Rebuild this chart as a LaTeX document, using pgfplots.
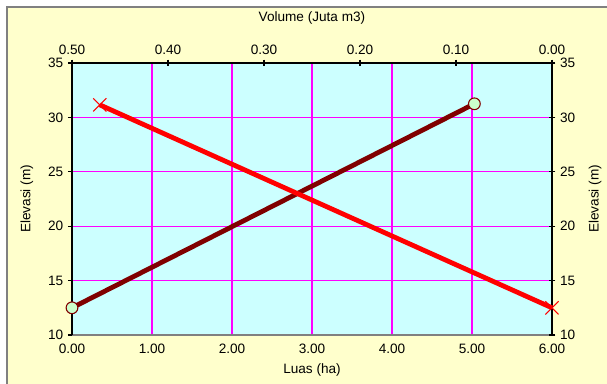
\documentclass[border=0pt]{standalone}
\usepackage{fontspec}
\setmainfont{Liberation Sans}
\usepackage{pgfplots}
\pgfplotsset{compat=1.18}
\definecolor{cream}{HTML}{FFFFCC}
\definecolor{cyanbg}{HTML}{CCFFFF}
\definecolor{darkred}{HTML}{800000}
\definecolor{mkfill}{HTML}{CCFFCC}
\definecolor{framegray}{HTML}{808080}
\definecolor{gridmag}{HTML}{FF00FF}
\pgfplotsset{every axis/.append style={font=\fontsize{10.2}{12}\selectfont,
  tick label style={font=\fontsize{10.2}{12}\selectfont},
  label style={font=\fontsize{10.2}{12}\selectfont}},
  /pgf/number format/assume math mode=true}
\begin{document}
\begin{tikzpicture}
\useasboundingbox (-54pt,-36.75pt) rectangle (401.25pt,251.25pt);
\fill[cream] (-48.75pt,-36.75pt) rectangle (401.25pt,246pt);
\draw[framegray, line width=0.8pt] (-48.75pt,-36.75pt) -- (-48.75pt,246pt) -- (401.25pt,246pt);
\begin{axis}[
  at={(0,0)}, anchor=south west,
  scale only axis, width=360pt, height=204pt,
  xmin=0, xmax=6, ymin=10, ymax=35,
  axis x line*=bottom, axis y line*=left,
  axis line style={-},
  x axis line style={draw=framegray, line width=1.5pt},
  y axis line style={draw=black, line width=1.1pt},
  axis background/.style={fill=cyanbg},
  grid=major,
  major grid style={draw=gridmag, line width=1pt, opacity=1},
  xtick={0,1,2,3,4,5,6},
  ytick={10,15,20,25,30,35},
  xtick style={draw=none},
  ytick style={draw=black, line width=0.8pt},
  tick align=outside, major tick length=3pt,
  xticklabel style={/pgf/number format/.cd, fixed, fixed zerofill, precision=2},
  xlabel={Luas (ha)}, ylabel={Elevasi (m)},
  every axis x label/.style={at={(axis description cs:0.5,-0.129)}, anchor=center},
  every axis y label/.style={at={(axis description cs:-0.094,0.5)}, rotate=90, anchor=center},
  clip=false,
]
\addplot[draw=darkred, line width=3.6pt, mark=*, mark size=4.4pt,
  mark options={fill=mkfill, draw=darkred, line width=0.8pt}]
  coordinates {(0,12.5) (5.03,31.25)};
\end{axis}
\begin{axis}[
  at={(0,0)}, anchor=south west,
  scale only axis, width=360pt, height=204pt,
  xmin=0, xmax=0.5, x dir=reverse, ymin=10, ymax=35,
  axis x line*=top, axis y line*=right,
  axis line style={-, draw=black, line width=1.1pt},
  xtick={0,0.1,0.2,0.3,0.4,0.5},
  ytick={10,15,20,25,30,35},
  tick style={draw=black, line width=0.8pt},
  tick align=center, major tick length=5pt,
  xticklabel style={/pgf/number format/.cd, fixed, fixed zerofill, precision=2},
  xlabel={Volume (Juta m3)}, ylabel={Elevasi (m)},
  every axis x label/.style={at={(axis description cs:0.5,1.165)}, anchor=center},
  every axis y label/.style={at={(axis description cs:1.09,0.5)}, rotate=90, anchor=center},
  clip=false,
]
\addplot[draw=red, line width=3.6pt, mark=x, mark size=7pt,
  mark options={draw=red, line width=0.8pt, solid}]
  coordinates {(0.471,31.15) (0,12.5)};
\end{axis}
\end{tikzpicture}
\end{document}
